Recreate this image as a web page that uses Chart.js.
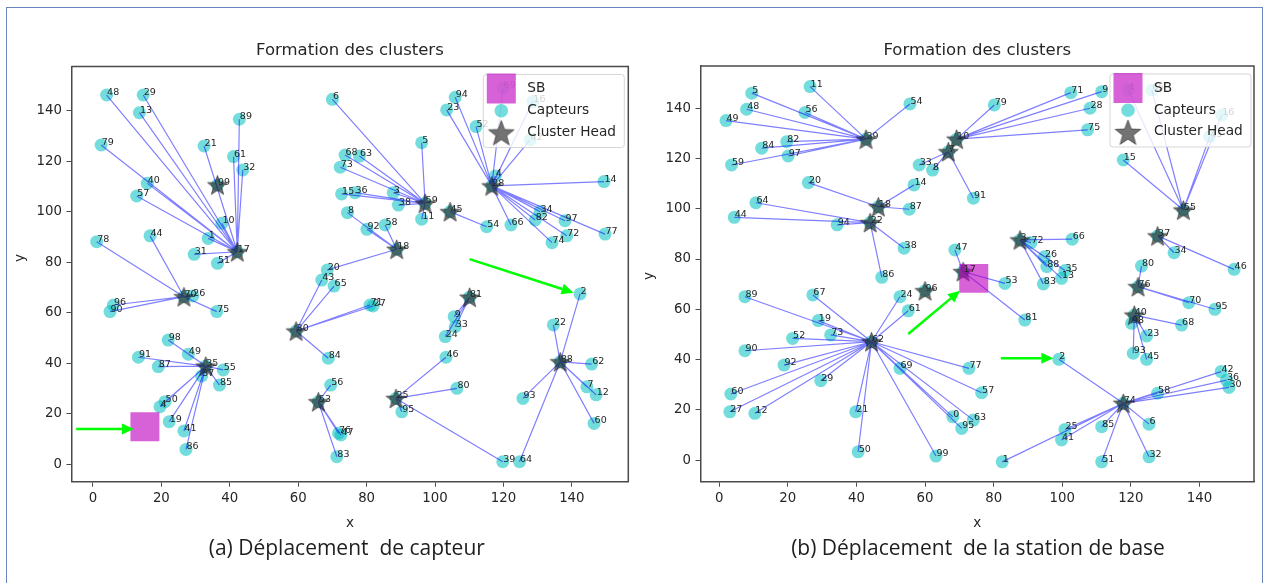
<!DOCTYPE html>
<html>
<head>
<meta charset="utf-8">
<title>Formation des clusters</title>
<script src="https://cdn.jsdelivr.net/npm/chart.js@4.4.1/dist/chart.umd.min.js"></script>
<style>
  html, body { margin: 0; padding: 0; background: #fff; }
  body { width: 1264px; height: 583px; position: relative; overflow: hidden; font-family: "DejaVu Sans", sans-serif; }
  #frame { position: absolute; left: 6px; top: 7px; width: 1255px; height: 640px; border: 1px solid #6a85bd; }
  canvas { position: absolute; top: 0; }
  .title { position: absolute; top: 40px; font-size: 16.5px; line-height: 20px; color: #262626; text-align: center; white-space: nowrap; }
  .xlab { position: absolute; top: 514px; font-size: 13.5px; line-height: 16px; color: #262626; text-align: center; }
  .ylab { position: absolute; font-size: 13.5px; line-height: 16px; color: #262626; transform: translate(-50%, -50%) rotate(-90deg); }
  .caption { position: absolute; top: 533px; font-family: "Open Sans", sans-serif; font-size: 21px; line-height: 28px; color: #1e1e1e; text-align: center; white-space: pre; }
</style>
</head>
<body>
<div id="frame"></div>
<canvas id="cA" width="640" height="583" style="left:0px"></canvas>
<canvas id="cB" width="624" height="583" style="left:640px"></canvas>

<div class="title" style="left:71.5px;width:556.8px">Formation des clusters</div>
<div class="title" style="left:700.5px;width:553.5px">Formation des clusters</div>
<div class="xlab" style="left:71.5px;width:556.8px">x</div>
<div class="xlab" style="left:700.5px;width:553.5px">x</div>
<div class="ylab" style="left:19.4px;top:258px">y</div>
<div class="ylab" style="left:647.7px;top:276px">y</div>
<div class="caption" style="left:146.8px;width:400px">(a) Déplacement  de capteur</div>
<div class="caption" style="left:728px;width:500px">(b) Déplacement  de la station de base</div>

<script>
// tick values shared by both plots
var xTicks = [0, 20, 40, 60, 80, 100, 120, 140];
var yTicks = [0, 20, 40, 60, 80, 100, 120, 140];

// ---------- (a) Déplacement de capteur ----------
var labelsA = ['48','29','13','79','21','89','61','32','40','57','10','1','31','51',
  '78','44','96','90','26','75',
  '98','91','87','49','55','85','37','4','50','19','41','86',
  '43','65','84','71','27',
  '56','76','47','83',
  '6','68','63','73','15','36','3','38','5','11',
  '54',
  '8','92','58','20',
  '94','23','52','69','16','42','4','14','34','82','97','72','74','77','66',
  '9','33','24',
  '46','80','95','39',
  '2','22','62','7','12','60','93','64'];
var xA = [4.0,14.7,13.6,2.4,32.5,42.8,41.1,43.8,15.9,12.8,37.7,33.7,29.6,36.4,
  1.1,16.7,6.0,5.0,29.2,36.2,
  22.0,13.3,19.1,27.9,38.1,37.0,31.8,19.6,21.1,22.3,26.6,27.2,
  66.9,70.5,68.8,81.0,81.9,
  69.5,71.8,72.5,71.3,
  70.0,73.7,77.9,72.3,72.7,76.6,87.8,89.3,96.1,96.1,
  115.1,
  74.4,80.1,85.4,68.5,
  105.9,103.4,112.0,119.9,128.6,127.8,117.6,149.4,130.7,129.3,138.0,138.5,134.2,149.7,122.2,
  105.6,105.9,103.0,
  103.2,106.4,90.3,119.8,
  142.4,134.6,145.8,144.4,147.1,146.5,125.7,124.7];
var yA = [146.3,146.3,139.3,126.5,126.1,136.7,121.9,116.6,111.3,106.3,95.5,89.5,83.2,79.6,
  88.2,90.5,63.1,60.5,66.7,60.5,
  49.2,42.4,38.7,43.6,37.4,31.4,35.0,22.8,24.8,16.9,13.2,5.9,
  73.0,70.6,42.0,63.1,62.7,
  31.4,12.3,11.6,3.0,
  144.6,122.5,122.1,117.7,107.1,107.6,107.6,102.7,127.4,97.1,
  94.1,
  99.7,93.1,94.8,77.0,
  145.4,140.4,133.8,149.1,143.7,128.5,114.2,112.0,100.1,96.8,96.5,90.5,87.8,91.2,94.8,
  58.5,54.5,50.6,
  42.4,30.1,20.8,1.0,
  67.5,55.2,39.7,30.7,27.5,16.2,26.1,1.0];
// cluster head each sensor is attached to
var headOfA = ['17','17','17','17','17','17','17','17','17','17','17','17','17','17',
  '70','70','70','70','70','70',
  '35','35','35','35','35','35','35','35','35','35','35','35',
  '30','30','30','30','30',
  '53','53','53','53',
  '59','59','59','59','59','59','59','59','59','59',
  '45',
  '18','18','18','18',
  '28','28','28','28','28','28','28','28','28','28','28','28','28','28','28',
  '81','81','81',
  '25','25','25','25',
  '88','88','88','88','88','88','88','88'];
var headLabelsA = ['17','99','70','35','30','53','59','45','18','28','81','25','88'];
var headXA = [42.2,36.4,26.6,33.0,59.4,65.9,97.1,104.4,88.8,116.6,110.1,88.6,136.6];
var headYA = [84.2,110.7,66.4,38.9,52.8,24.8,103.4,100.1,85.2,110.3,66.2,26.1,40.6];
var sinkA = [15.2, 14.9];
var arrowsA = [[-4.9, 14.0, 12.0, 14.0], [110.1, 81.3, 140.5, 68.0]];

// ---------- (b) Déplacement de la station de base ----------
var labelsB = ['11','5','48','56','49','54','84','82','97','59',
  '20','14','87',
  '64','44','94','38','86',
  '33','8','91',
  '79','71','9','28','75',
  '15','4','65','16','43',
  '34','46',
  '72','66','26','88','35','83','13',
  '47','53','81',
  '80','70','95',
  '98','68','23','93','45',
  '2','42','36','30','58','6','32','51','85','25','41','1',
  '89','67','19','52','73','90','92','29','60','27','12','21','50','99','69','77','57','0','95','63','24','61'];
var xB = [26.5,9.5,8.0,25.0,2.0,55.6,12.4,19.7,20.1,3.6,
  26.0,56.8,55.4,
  10.7,4.4,34.4,53.9,47.4,
  58.3,62.2,74.1,
  80.2,102.5,111.5,108.1,107.4,
  117.8,119.2,126.1,146.5,143.0,
  132.6,150.1,
  90.9,102.9,94.8,95.5,100.8,94.5,99.8,
  68.7,83.3,89.1,
  123.1,136.9,144.5,
  120.2,134.8,124.6,120.7,124.6,
  99.0,146.3,147.9,148.6,127.8,125.3,125.3,111.5,111.5,100.8,99.8,82.5,
  7.5,27.3,28.9,21.4,32.5,7.5,18.9,29.6,3.4,3.1,10.4,39.8,40.5,63.2,52.7,72.8,76.5,68.1,70.7,74.1,52.7,55.1];
var yB = [148.6,146.0,139.6,138.3,135.1,141.7,124.1,126.7,121.0,117.4,
  110.4,109.5,99.8,
  102.4,96.6,93.6,84.3,72.7,
  117.4,115.4,104.2,
  141.3,146.2,146.6,140.0,131.4,
  119.4,147.3,147.3,137.3,128.7,
  82.5,75.9,
  86.5,87.9,80.9,77.0,75.4,70.1,72.3,
  83.6,70.3,55.7,
  77.2,62.6,60.0,
  54.4,53.7,49.4,42.5,40.1,
  40.1,35.2,31.8,28.9,26.6,14.3,1.3,-0.7,13.3,12.2,8.0,-0.7,
  65.0,65.7,55.5,48.4,49.8,43.5,37.8,31.6,26.3,19.2,18.6,19.2,3.3,1.6,36.5,36.5,26.8,17.2,12.6,15.9,65.0,59.4];
var headOfB = ['39','39','39','39','39','39','39','39','39','39',
  '18','18','18',
  '22','22','22','22','22',
  '7','7','7',
  '10','10','10','10','10',
  '55','55','55','55','55',
  '37','37',
  '3','3','3','3','3','3','3',
  '17','17','17',
  '76','76','76',
  '40','40','40','40','40',
  '74','74','74','74','74','74','74','74','74','74','74','74',
  '62','62','62','62','62','62','62','62','62','62','62','62','62','62','62','62','62','62','62','62','62','62'];
var headLabelsB = ['39','18','22','7','10','55','37','3','17','76','40','74','62','96'];
var headXB = [42.8,46.4,44.0,66.8,69.2,135.3,127.8,87.7,71.1,122.1,121.0,117.8,44.4,60.0];
var headYB = [127.7,100.8,94.5,122.7,127.7,99.5,89.2,87.6,75.0,69.0,57.7,22.6,47.1,67.4];
var sinkB = [74.2, 72.3];
var arrowsB = [[55.1, 50.2, 70.2, 67.4], [82.1, 40.5, 97.4, 40.5]];

// ---------- styles ----------
var SPINE = '#4a4a4a';
var TEXT = '#262626';
var SENSOR_COLOR = 'rgba(0,191,191,0.55)';
var SINK_COLOR = 'rgba(191,0,191,0.62)';
var LINK_COLOR = 'rgba(0,0,255,0.5)';
var STAR_FILL = 'rgba(40,40,40,0.65)';
var STAR_EDGE = 'rgba(0,0,0,0.45)';

// five pointed star used as a point style
function makeStar(size) {
    var c = document.createElement('canvas');
    c.width = size; c.height = size;
    var g = c.getContext('2d');
    var R = size / 2 - 1, r = R * 0.42, cx = size / 2, cy = size / 2 + 1;
    g.beginPath();
    for (var i = 0; i < 10; i++) {
        var a = -Math.PI / 2 + i * Math.PI / 5;
        var rad = (i % 2) ? r : R;
        g.lineTo(cx + rad * Math.cos(a), cy + rad * Math.sin(a));
    }
    g.closePath();
    g.fillStyle = STAR_FILL; g.fill();
    g.strokeStyle = STAR_EDGE; g.lineWidth = 1; g.stroke();
    return c;
}
var starPlot = makeStar(23);
var starLegend = makeStar(29);

// build the chart of one panel
function makeChart(canvasId, p) {
    // links sensor -> cluster head, separated by gaps
    var headIndex = {};
    p.headLabels.forEach(function (l, i) { headIndex[l] = i; });
    var links = [];
    p.labels.forEach(function (l, i) {
        var h = headIndex[p.heads[i]];
        links.push({ x: p.xs[i], y: p.ys[i] }, { x: p.hx[h], y: p.hy[h] }, { x: p.hx[h], y: null });
    });
    var sensors = p.xs.map(function (x, i) { return { x: x, y: p.ys[i] }; })
        .concat(p.hx.map(function (x, i) { return { x: x, y: p.hy[i] }; }));
    var heads = p.hx.map(function (x, i) { return { x: x, y: p.hy[i] }; });

    var font = { family: "'DejaVu Sans', sans-serif", size: 13.3 };

    // green arrows, labels and legend are drawn on top of the data
    var decor = {
        id: 'decor' + canvasId,
        beforeDatasetsDraw: function (chart) {
            var a = chart.chartArea, ctx = chart.ctx;
            ctx.save();
            ctx.strokeStyle = SPINE; ctx.lineWidth = 1.5;
            ctx.beginPath();
            ctx.moveTo(a.left, a.top); ctx.lineTo(a.right, a.top); ctx.lineTo(a.right, a.bottom);
            ctx.stroke();
            ctx.restore();
        },
        afterDatasetsDraw: function (chart) {
            var ctx = chart.ctx, sx = chart.scales.x, sy = chart.scales.y, a = chart.chartArea;
            ctx.save();
            // arrows
            p.arrows.forEach(function (ar) {
                var x0 = sx.getPixelForValue(ar[0]), y0 = sy.getPixelForValue(ar[1]);
                var x1 = sx.getPixelForValue(ar[2]), y1 = sy.getPixelForValue(ar[3]);
                var ang = Math.atan2(y1 - y0, x1 - x0), hl = 12, hw = 5.5;
                var bx = x1 - hl * Math.cos(ang), by = y1 - hl * Math.sin(ang);
                ctx.strokeStyle = '#00ff00'; ctx.fillStyle = '#00ff00'; ctx.lineWidth = 2.5;
                ctx.beginPath(); ctx.moveTo(x0, y0); ctx.lineTo(bx, by); ctx.stroke();
                ctx.beginPath();
                ctx.moveTo(x1, y1);
                ctx.lineTo(bx + hw * Math.sin(ang), by - hw * Math.cos(ang));
                ctx.lineTo(bx - hw * Math.sin(ang), by + hw * Math.cos(ang));
                ctx.closePath(); ctx.fill();
            });
            // node labels
            ctx.font = "9.5px 'DejaVu Sans', sans-serif";
            ctx.fillStyle = TEXT; ctx.textAlign = 'left'; ctx.textBaseline = 'alphabetic';
            p.labels.forEach(function (l, i) {
                ctx.fillText(l, sx.getPixelForValue(p.xs[i]) + 0.5, sy.getPixelForValue(p.ys[i]));
            });
            p.headLabels.forEach(function (l, i) {
                ctx.fillText(l, sx.getPixelForValue(p.hx[i]) + 0.5, sy.getPixelForValue(p.hy[i]));
            });
            // legend box (upper right, semi transparent like matplotlib)
            var W = 141, H = 73, L = a.right - p.legendInset - W, T = a.top + 7.5;
            ctx.fillStyle = 'rgba(255,255,255,0.8)';
            ctx.strokeStyle = 'rgba(204,204,204,0.8)'; ctx.lineWidth = 1;
            ctx.beginPath(); ctx.roundRect(L + 0.5, T + 0.5, W, H, 3); ctx.fill(); ctx.stroke();
            var mx = L + 18.5;
            ctx.fillStyle = SINK_COLOR; ctx.fillRect(mx - 14.5, T - 0.5, 29, 30);
            ctx.fillStyle = SENSOR_COLOR;
            ctx.beginPath(); ctx.arc(mx, T + 36.7, 6.8, 0, Math.PI * 2); ctx.fill();
            ctx.drawImage(starLegend, mx - 14.5, T + 59 - 14.5);
            ctx.font = "13.7px 'DejaVu Sans', sans-serif";
            ctx.fillStyle = TEXT; ctx.textBaseline = 'middle';
            ctx.fillText('SB', L + 44.5, T + 14.8);
            ctx.fillText('Capteurs', L + 44.5, T + 36.5);
            ctx.fillText('Cluster Head', L + 44.5, T + 58.2);
            ctx.restore();
        }
    };

    function noPad(s) { s.paddingLeft = 0; s.paddingRight = 0; s.paddingTop = 0; s.paddingBottom = 0; }

    return new Chart(document.getElementById(canvasId), {
        type: 'scatter',
        data: {
            datasets: [
                { label: 'SB', data: [{ x: p.sink[0], y: p.sink[1] }], pointStyle: 'rect', pointRadius: 20.5,
                  backgroundColor: SINK_COLOR, borderWidth: 0, order: 0 },
                { label: 'Cluster Head', data: heads, pointStyle: starPlot, pointRadius: 10, order: 1 },
                { label: 'liens', data: links, showLine: true, spanGaps: false, borderColor: LINK_COLOR,
                  borderWidth: 1.2, pointRadius: 0, order: 2 },
                { label: 'Capteurs', data: sensors, pointRadius: 6.5, backgroundColor: SENSOR_COLOR,
                  borderWidth: 0, order: 3 }
            ]
        },
        options: {
            responsive: false,
            animation: false,
            events: [],
            layout: { padding: p.padding, autoPadding: false },
            plugins: { legend: { display: false }, tooltip: { enabled: false }, title: { display: false } },
            scales: {
                x: {
                    type: 'linear', min: p.xRange[0], max: p.xRange[1], bounds: 'data',
                    afterFit: function (s) { s.height = 40; noPad(s); },
                    afterBuildTicks: function (s) { s.ticks = xTicks.map(function (v) { return { value: v }; }); },
                    grid: { drawOnChartArea: false, drawTicks: true, tickLength: 5, tickColor: SPINE },
                    border: { display: true, color: SPINE, width: 1.5 },
                    ticks: { font: font, color: TEXT, padding: 4, maxRotation: 0, autoSkip: false }
                },
                y: {
                    type: 'linear', min: p.yRange[0], max: p.yRange[1], bounds: 'data',
                    afterFit: function (s) { s.width = 45; noPad(s); },
                    afterBuildTicks: function (s) { s.ticks = yTicks.map(function (v) { return { value: v }; }); },
                    grid: { drawOnChartArea: false, drawTicks: true, tickLength: 5, tickColor: SPINE },
                    border: { display: true, color: SPINE, width: 1.5 },
                    ticks: { font: font, color: TEXT, padding: 4.5, autoSkip: false }
                }
            }
        },
        plugins: [decor]
    });
}

makeChart('cA', {
    labels: labelsA, xs: xA, ys: yA, heads: headOfA,
    headLabels: headLabelsA, hx: headXA, hy: headYA,
    sink: sinkA, arrows: arrowsA,
    xRange: [-6.26, 156.5], yRange: [-6.9, 157.6],
    padding: { left: 26.5, right: 11.7, top: 66.5, bottom: 61.3 },
    legendInset: 4.5
});
makeChart('cB', {
    labels: labelsB, xs: xB, ys: yB, heads: headOfB,
    headLabels: headLabelsB, hx: headXB, hy: headYB,
    sink: sinkB, arrows: arrowsB,
    xRange: [-5.45, 155.9], yRange: [-8.6, 156.8],
    padding: { left: 15.5, right: 10, top: 66, bottom: 61.3 },
    legendInset: 3.5
});
</script>
</body>
</html>
